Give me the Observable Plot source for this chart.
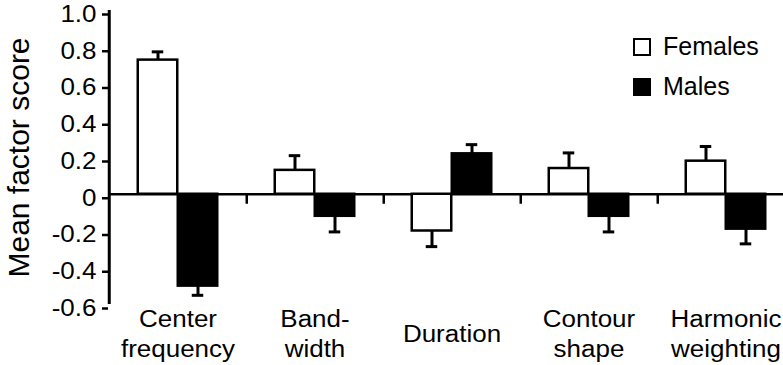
<!DOCTYPE html>
<html><head><meta charset="utf-8">
<script src="https://cdn.jsdelivr.net/npm/d3@7"></script>
<script src="https://cdn.jsdelivr.net/npm/@observablehq/plot@0.6"></script>
<style>
html,body{margin:0;padding:0;background:#fff;overflow:hidden;}
#wrap{position:relative;width:783px;height:365px;overflow:hidden;}
.leg{position:absolute;font-family:"Liberation Sans",Arial,sans-serif;font-size:25px;line-height:25px;color:#000;white-space:nowrap;}
.sq{position:absolute;width:18px;height:18px;box-sizing:border-box;border:2.5px solid #000;}
</style></head><body><div id="wrap"></div>
<script>
const categories = ["Center frequency","Band-width","Duration","Contour shape","Harmonic weighting"];
const tickLabels = ["Center\nfrequency","Band-\nwidth","Duration","Contour\nshape","Harmonic\nweighting"];
const femaleMeans = [0.73, 0.13, -0.20, 0.14, 0.18];
const femaleSE = [0.045, 0.08, 0.085, 0.085, 0.08];
const maleMeans = [-0.50, -0.12, 0.22, -0.12, -0.19];
const maleSE = [0.05, 0.085, 0.05, 0.085, 0.08];
const yTicks = [-0.6, -0.4, -0.2, 0, 0.2, 0.4, 0.6, 0.8, 1.0];
const seriesNames = ["Females", "Males"];
const yTitle = "Mean factor score";

const rows = (means, se, sex) => categories.map((c, i) => ({cat: c, sex, value: means[i], end: means[i] + Math.sign(means[i]) * se[i]}));
const females = rows(femaleMeans, femaleSE, seriesNames[0]);
const males = rows(maleMeans, maleSE, seriesNames[1]);

const W = 783, H = 365, ML = 108, MT = 10, MB = 61;
const step = 137.5, half = step / 2, barW = 40, capW = 12;
const MR = W - (ML + step * categories.length);
const font = '"Liberation Sans", Arial, sans-serif';

const chart = Plot.plot({
  width: W, height: H,
  marginLeft: ML, marginRight: MR, marginTop: MT, marginBottom: MB,
  style: {fontFamily: font, fontSize: "23px", color: "black", background: "white", overflow: "hidden"},
  x: {domain: categories, padding: 0},
  y: {domain: [-0.6, 1.0]},
  marks: [
    Plot.axisY({ticks: yTicks, tickFormat: d => d === 0 ? "0" : d.toFixed(1), tickSize: 6, tickPadding: 6, strokeWidth: 2.5, fontSize: 23, dy: 4,
      label: yTitle, labelArrow: "none", labelAnchor: "center", labelOffset: 101}),
    Plot.axisX({tickSize: 0, tickPadding: 28, tickFormat: d => tickLabels[categories.indexOf(d)], lineAnchor: "middle", lineHeight: 1.3, fontSize: 23, label: null}),
    Plot.ruleX([categories[0]], {dx: -half, strokeWidth: 3}),
    Plot.ruleY([0], {strokeWidth: 2.5}),
    Plot.ruleX(categories.slice(0, 4), {x: d => d, y1: 0, y2: 0, insetBottom: -10, dx: half, strokeWidth: 2.5}),
    Plot.barY(females, {x: "cat", y: "value", fill: "white", stroke: "black", strokeWidth: 2.5, insetLeft: half - barW, insetRight: half}),
    Plot.barY(males, {x: "cat", y: "value", fill: "black", stroke: "black", strokeWidth: 2.5, insetLeft: half, insetRight: half - barW}),
    Plot.ruleX(females, {x: "cat", y1: "value", y2: "end", dx: -barW / 2, strokeWidth: 3}),
    Plot.ruleX(males, {x: "cat", y1: "value", y2: "end", dx: barW / 2, strokeWidth: 3}),
    Plot.tickY(females, {x: "cat", y: "end", insetLeft: half - barW / 2 - capW / 2, insetRight: half + barW / 2 - capW / 2, strokeWidth: 3}),
    Plot.tickY(males, {x: "cat", y: "end", insetLeft: half + barW / 2 - capW / 2, insetRight: half - barW / 2 - capW / 2, strokeWidth: 3})
  ]
});

// widen tick label glyphs horizontally (the reference type is wide)
const stretch = 1.13;
chart.querySelectorAll('[aria-label="y-axis tick label"] text, [aria-label="x-axis tick label"] text').forEach(t => {
  const tr = t.getAttribute("transform") || "";
  const ax = +(t.getAttribute("x") || 0);
  t.setAttribute("transform", `${tr} translate(${ax},0) scale(${stretch},1) translate(${-ax},0)`);
});
chart.querySelectorAll('[aria-label="y-axis label"] text').forEach(t => {
  t.textContent = yTitle;
  t.style.fontSize = "30px";
});

const wrap = document.getElementById("wrap");
wrap.appendChild(chart);

// legend
const legendItems = [
  {name: seriesNames[0], fill: "#fff", top: 38},
  {name: seriesNames[1], fill: "#000", top: 78}
];
legendItems.forEach(it => {
  const sq = document.createElement("div");
  sq.className = "sq";
  sq.style.left = "633px"; sq.style.top = it.top + "px"; sq.style.background = it.fill;
  wrap.appendChild(sq);
  const tx = document.createElement("div");
  tx.className = "leg";
  tx.textContent = it.name;
  tx.style.left = "663px"; tx.style.top = (it.top - 4.5) + "px";
  wrap.appendChild(tx);
});
</script></body></html>
